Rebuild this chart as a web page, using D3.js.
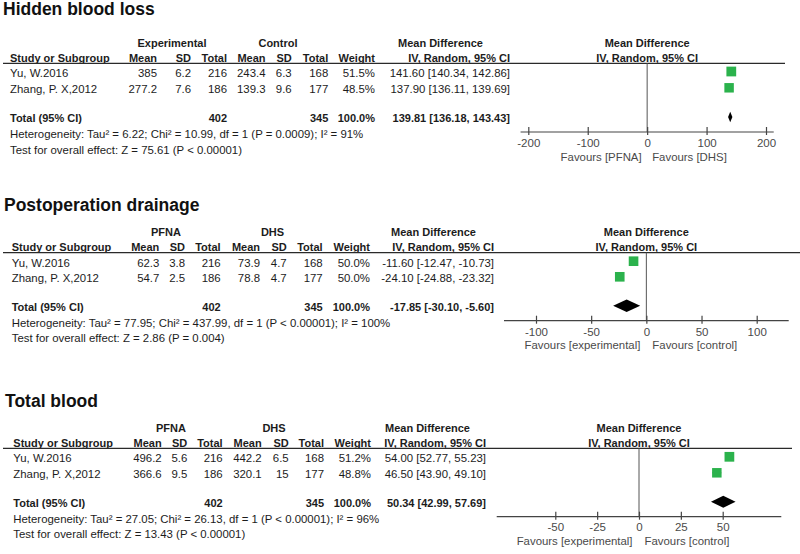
<!DOCTYPE html>
<html><head><meta charset="utf-8">
<script src="https://cdn.jsdelivr.net/npm/d3@7"></script>
<style>
html,body{margin:0;padding:0;background:#fff;}
svg{display:block;font-family:"Liberation Sans",Arial,sans-serif;}
</style></head>
<body><svg id="chart" width="800" height="554"></svg>
<script>
// ---------------- DATA ----------------
const panelTitles = ["Hidden blood loss", "Postoperation drainage", "Total blood"];
const groupLabels = [["Experimental", "Control"], ["PFNA", "DHS"], ["PFNA", "DHS"]];
const studies = ["Yu, W.2016", "Zhang, P. X,2012"];
const expMean = [[385, 277.2], [62.3, 54.7], [496.2, 366.6]];
const expSD = [[6.2, 7.6], [3.8, 2.5], [5.6, 9.5]];
const expTotal = [[216, 186], [216, 186], [216, 186]];
const ctlMean = [[243.4, 139.3], [73.9, 78.8], [442.2, 320.1]];
const ctlSD = [[6.3, 9.6], [4.7, 4.7], [6.5, 15]];
const ctlTotal = [[168, 177], [168, 177], [168, 177]];
const weights = [[51.5, 48.5], [50.0, 50.0], [51.2, 48.8]];
const meanDiff = [[141.60, 137.90], [-11.60, -24.10], [54.00, 46.50]];
const ciLow = [[140.34, 136.11], [-12.47, -24.88], [52.77, 43.90]];
const ciHigh = [[142.86, 139.69], [-10.73, -23.32], [55.23, 49.10]];
const totalExpN = [402, 402, 402];
const totalCtlN = [345, 345, 345];
const totalMD = [139.81, -17.85, 50.34];
const totalLow = [136.18, -30.10, 42.99];
const totalHigh = [143.43, -5.60, 57.69];
const heterogeneity = [
  "Heterogeneity: Tau\u00B2 = 6.22; Chi\u00B2 = 10.99, df = 1 (P = 0.0009); I\u00B2 = 91%",
  "Heterogeneity: Tau\u00B2 = 77.95; Chi\u00B2 = 437.99, df = 1 (P < 0.00001); I\u00B2 = 100%",
  "Heterogeneity: Tau\u00B2 = 27.05; Chi\u00B2 = 26.13, df = 1 (P < 0.00001); I\u00B2 = 96%"
];
const overallTest = [
  "Test for overall effect: Z = 75.61 (P < 0.00001)",
  "Test for overall effect: Z = 2.86 (P = 0.004)",
  "Test for overall effect: Z = 13.43 (P < 0.00001)"
];
const tickValues = [[-200, -100, 0, 100, 200], [-100, -50, 0, 50, 100], [-50, -25, 0, 25, 50]];
const favours = [["Favours [PFNA]", "Favours [DHS]"], ["Favours [experimental]", "Favours [control]"], ["Favours [experimental]", "Favours [control]"]];

// ---------------- LAYOUT ----------------
const layouts = [
  { titleX: 3, titleY: 14.5, h1: 47, h2: 61.7, ul: 63.3, ulEnd: 785, rows: [77, 93.3], tot: 122, het: 138, test: 153.5,
    cols: { study: 10, eM: 157, eSD: 191, eT: 227, cM: 265.5, cSD: 291.7, cT: 328.3, w: 375, ci: 510 },
    g1: 172, g2: 278, mdX: 398, mdAnchor: "start",
    range: [528.3, 766], axisExt: 213, axisY: 132, tickY: 146.7, favY: 161, favGap: [5.5, 5], diaH: 10.5 },
  { titleX: 4, titleY: 210.7, h1: 235.7, h2: 250.7, ul: 252.7, ulEnd: 800, rows: [266.7, 282.3], tot: 310.7, het: 326.7, test: 341.7,
    cols: { study: 11.7, eM: 159.3, eSD: 185, eT: 220.7, cM: 260, cSD: 286.7, cT: 322.7, w: 370, ci: 494 },
    g1: 166, g2: 272.5, mdX: 476, mdAnchor: "end",
    range: [536, 756.7], axisExt: 129, axisY: 320.7, tickY: 335.7, favY: 349.3, favGap: [6, 6], diaH: 12.5 },
  { titleX: 5, titleY: 406.7, h1: 431.7, h2: 446.7, ul: 448.3, ulEnd: 792, rows: [462.3, 478.3], tot: 506.7, het: 523.3, test: 538.3,
    cols: { study: 13.3, eM: 161.7, eSD: 187.3, eT: 222.7, cM: 261.7, cSD: 288.7, cT: 324, w: 371, ci: 486 },
    g1: 171, g2: 274, mdX: 385, mdAnchor: "start",
    range: [555.3, 722.7], axisExt: 85, axisY: 516.7, tickY: 531, favY: 545, favGap: [6.5, 5.5], diaH: 12 }
];

const svg = d3.select("#chart");
const TXT = "#1c1c1c", GREY = "#4a4a4a", GREEN = "#2bb24c";
const sizeScale = d3.scaleSqrt().domain([0, 100]).range([0, 13.6]);
const fmt2 = v => v.toFixed(2);
const fmtW = v => v.toFixed(1) + "%";

function txt(g, x, y, s, opt = {}) {
  return g.append("text").attr("x", x).attr("y", y).text(s)
    .attr("font-size", opt.size || (opt.bold ? 11 : 11.4))
    .attr("font-weight", opt.bold ? "bold" : null)
    .attr("text-anchor", opt.anchor || "start")
    .attr("fill", opt.fill || TXT);
}

layouts.forEach((L, p) => {
  const g = svg.append("g");
  const c = L.cols;
  // title
  txt(g, L.titleX, L.titleY, panelTitles[p], { size: 17.5, bold: true, fill: "#111" });
  // group headers
  txt(g, L.g1, L.h1, groupLabels[p][0], { bold: true, anchor: "middle" });
  txt(g, L.g2, L.h1, groupLabels[p][1], { bold: true, anchor: "middle" });
  txt(g, L.mdX, L.h1, "Mean Difference", { bold: true, anchor: L.mdAnchor });
  // column headers
  txt(g, c.study, L.h2, "Study or Subgroup", { bold: true });
  [["Mean", c.eM], ["SD", c.eSD], ["Total", c.eT], ["Mean", c.cM], ["SD", c.cSD], ["Total", c.cT], ["Weight", c.w]]
    .forEach(([s, x]) => txt(g, x, L.h2, s, { bold: true, anchor: "end" }));
  txt(g, c.ci, L.h2, "IV, Random, 95% CI", { bold: true, anchor: "end" });

  // forest scale
  const x = d3.scaleLinear().domain([tickValues[p][0], tickValues[p][tickValues[p].length - 1]]).range(L.range);
  const y = d3.scaleOrdinal().domain(studies).range(L.rows);

  txt(g, x(0), L.h1, "Mean Difference", { bold: true, anchor: "middle" });
  txt(g, x(0), L.h2, "IV, Random, 95% CI", { bold: true, anchor: "middle" });

  // underline
  g.append("line").attr("x1", 3).attr("x2", L.ulEnd).attr("y1", L.ul).attr("y2", L.ul)
    .attr("stroke", "#2a2a2a").attr("stroke-width", 1.3);

  // study rows
  studies.forEach((s, i) => {
    const yy = y(s);
    txt(g, c.study, yy, s);
    txt(g, c.eM, yy, String(expMean[p][i]), { anchor: "end" });
    txt(g, c.eSD, yy, String(expSD[p][i]), { anchor: "end" });
    txt(g, c.eT, yy, String(expTotal[p][i]), { anchor: "end" });
    txt(g, c.cM, yy, String(ctlMean[p][i]), { anchor: "end" });
    txt(g, c.cSD, yy, String(ctlSD[p][i]), { anchor: "end" });
    txt(g, c.cT, yy, String(ctlTotal[p][i]), { anchor: "end" });
    txt(g, c.w, yy, fmtW(weights[p][i]), { anchor: "end" });
    txt(g, c.ci, yy, `${fmt2(meanDiff[p][i])} [${fmt2(ciLow[p][i])}, ${fmt2(ciHigh[p][i])}]`, { anchor: "end" });
  });

  // totals
  txt(g, c.study, L.tot, "Total (95% CI)", { bold: true });
  txt(g, c.eT, L.tot, String(totalExpN[p]), { bold: true, anchor: "end" });
  txt(g, c.cT, L.tot, String(totalCtlN[p]), { bold: true, anchor: "end" });
  txt(g, c.w, L.tot, "100.0%", { bold: true, anchor: "end" });
  txt(g, c.ci, L.tot, `${fmt2(totalMD[p])} [${fmt2(totalLow[p])}, ${fmt2(totalHigh[p])}]`, { bold: true, anchor: "end" });
  txt(g, c.study, L.het, heterogeneity[p]);
  txt(g, c.study, L.test, overallTest[p]);

  // zero line
  g.append("line").attr("x1", x(0)).attr("x2", x(0)).attr("y1", L.ul).attr("y2", L.axisY)
    .attr("stroke", "#555").attr("stroke-width", 1);

  // CI lines and squares
  studies.forEach((s, i) => {
    const yc = y(s) - 5.5;
    g.append("line").attr("x1", x(ciLow[p][i])).attr("x2", x(ciHigh[p][i]))
      .attr("y1", yc).attr("y2", yc).attr("stroke", "#000").attr("stroke-width", 1);
    const sz = sizeScale(weights[p][i]);
    g.append("rect").attr("x", x(meanDiff[p][i]) - sz / 2).attr("y", yc - sz / 2)
      .attr("width", sz).attr("height", sz).attr("fill", GREEN);
  });

  // diamond
  const yd = L.tot - 5, h = L.diaH / 2;
  g.append("path").attr("d", `M${x(totalLow[p])},${yd}L${x(totalMD[p])},${yd - h}L${x(totalHigh[p])},${yd}L${x(totalMD[p])},${yd + h}Z`)
    .attr("fill", "#000");

  // axis
  const axisG = g.append("g").attr("transform", `translate(0,${L.axisY})`)
    .call(d3.axisBottom(x).tickValues(tickValues[p]).tickSizeOuter(0).tickFormat(d => String(d)));
  axisG.select(".domain").remove();
  axisG.selectAll(".tick line").attr("y1", -5).attr("y2", 3).attr("stroke", "#444").attr("stroke-width", 1.2);
  axisG.selectAll(".tick text").attr("y", L.tickY - L.axisY).attr("dy", null)
    .attr("font-size", 11.5).attr("fill", GREY).attr("font-family", null);
  g.append("line").attr("x1", x(-L.axisExt)).attr("x2", x(L.axisExt)).attr("y1", L.axisY).attr("y2", L.axisY)
    .attr("stroke", "#444").attr("stroke-width", 1.2);

  // favours
  txt(g, x(0) - L.favGap[0], L.favY, favours[p][0], { anchor: "end", fill: GREY });
  txt(g, x(0) + L.favGap[1], L.favY, favours[p][1], { fill: GREY });
});
</script></body></html>
